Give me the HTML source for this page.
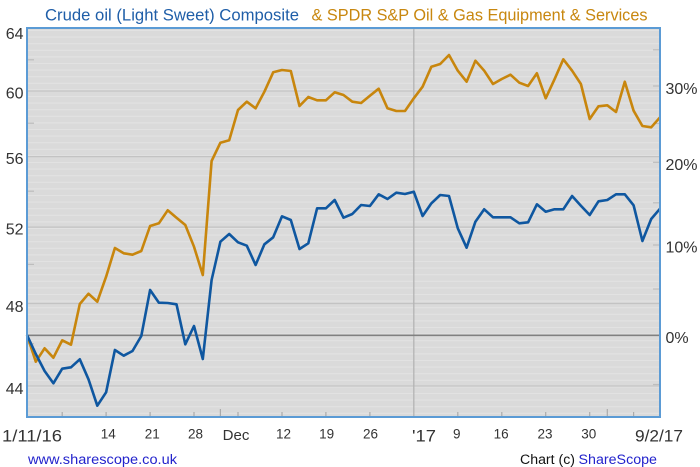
<!DOCTYPE html>
<html><head><meta charset="utf-8"><style>
html,body{margin:0;padding:0;background:#fff;}
svg{display:block;}
text{font-family:"Liberation Sans",Arial,sans-serif;}
</style></head><body>
<svg width="700" height="467" viewBox="0 0 700 467" xmlns="http://www.w3.org/2000/svg">
<defs>
<pattern id="bg" x="0" y="30" width="10" height="6.6" patternUnits="userSpaceOnUse">
<rect width="10" height="6.6" fill="#dadada"/>
<rect y="0" width="10" height="1" fill="#e3e3e3"/>
</pattern>
</defs>
<rect width="700" height="467" fill="#fff"/>
<rect x="27" y="28" width="633" height="389" fill="url(#bg)"/>
<!-- major gridlines -->
<g stroke="#c3c3c3" stroke-width="1.2">
<line x1="27" x2="660" y1="91" y2="91"/>
<line x1="27" x2="660" y1="156.6" y2="156.6"/>
<line x1="27" x2="660" y1="227.1" y2="227.1"/>
<line x1="27" x2="660" y1="303.5" y2="303.5"/>
<line x1="27" x2="660" y1="386" y2="386"/>
</g>
<!-- left minor ticks -->
<g stroke="#bdbdbd" stroke-width="1.2">
<line x1="27" x2="34" y1="59.8" y2="59.8"/>
<line x1="27" x2="34" y1="123.2" y2="123.2"/>
<line x1="27" x2="34" y1="191.2" y2="191.2"/>
<line x1="27" x2="34" y1="264.4" y2="264.4"/>
<line x1="27" x2="34" y1="343.7" y2="343.7"/>
<!-- right ticks -->
<line x1="653" x2="660" y1="49.8" y2="49.8"/>
<line x1="653" x2="660" y1="86" y2="86"/>
<line x1="653" x2="660" y1="123.5" y2="123.5"/>
<line x1="653" x2="660" y1="162.3" y2="162.3"/>
<line x1="653" x2="660" y1="202.8" y2="202.8"/>
<line x1="653" x2="660" y1="245" y2="245"/>
<line x1="653" x2="660" y1="289" y2="289"/>
<line x1="653" x2="660" y1="384.5" y2="384.5"/>
</g>
<!-- Jan line -->
<line x1="413.8" x2="413.8" y1="28" y2="417" stroke="#b4b4b4" stroke-width="1.3"/>
<!-- baseline -->
<line x1="27" x2="660" y1="335.3" y2="335.3" stroke="#808080" stroke-width="1.6"/>
<!-- bottom ticks -->
<g stroke="#aaaaaa" stroke-width="1.2">
<line x1="62.2" x2="62.2" y1="412" y2="417"/>
<line x1="106.1" x2="106.1" y1="412" y2="417"/>
<line x1="150.1" x2="150.1" y1="412" y2="417"/>
<line x1="194" x2="194" y1="412" y2="417"/>
<line x1="220.4" x2="220.4" y1="409" y2="417"/>
<line x1="238" x2="238" y1="412" y2="417"/>
<line x1="282" x2="282" y1="412" y2="417"/>
<line x1="325.9" x2="325.9" y1="412" y2="417"/>
<line x1="369.9" x2="369.9" y1="412" y2="417"/>
<line x1="457.8" x2="457.8" y1="412" y2="417"/>
<line x1="501.8" x2="501.8" y1="412" y2="417"/>
<line x1="545.7" x2="545.7" y1="412" y2="417"/>
<line x1="589.7" x2="589.7" y1="412" y2="417"/>
<line x1="607.3" x2="607.3" y1="409" y2="417"/>
<line x1="633.6" x2="633.6" y1="412" y2="417"/>
</g>
<!-- gold series -->
<polyline fill="none" stroke="#c8860d" stroke-width="2.6" stroke-linejoin="round" points="27,335 35.8,361.7 44.6,348.3 53.4,357.7 62.2,340.3 71,344.7 79.8,304 88.5,293.7 97.3,301.7 106.1,276.7 114.9,248 123.7,253.3 132.5,254.7 141.3,251 150.1,226 158.9,223.3 167.7,210.3 176.5,217.7 185.3,225 194,246.7 202.8,275 211.6,161 220.4,142.7 229.2,140.3 238,110 246.8,101.7 255.6,108.3 264.4,91.7 273.2,72.3 282,70 290.8,71 299.5,106 308.3,97 317.1,100.3 325.9,100.3 334.7,92.3 343.5,95 352.3,101.7 361.1,103 369.9,95.7 378.7,88.7 387.5,108.3 396.3,111 405,111 413.8,98.3 422.6,86.7 431.4,66.7 440.2,64 449,55 457.8,70.7 466.6,81.7 475.4,60.7 484.2,70.7 493,84 501.8,79 510.5,74.7 519.3,82.7 528.1,86 536.9,73.3 545.7,98.3 554.5,79.3 563.3,59.3 572.1,70.7 580.9,84 589.7,119 598.5,106.3 607.3,105.3 616,112 624.8,81.7 633.6,110.7 642.4,126 651.2,127.3 660,117.3"/>
<!-- blue series -->
<polyline fill="none" stroke="#0f57a0" stroke-width="2.6" stroke-linejoin="round" points="27,335 35.8,354 44.6,371 53.4,383.3 62.2,368.7 71,367.3 79.8,359.3 88.5,379.3 97.3,405.7 106.1,392.3 114.9,350 123.7,355.7 132.5,351 141.3,336 150.1,290 158.9,302.7 167.7,303 176.5,304.3 185.3,344.3 194,326 202.8,359 211.6,280 220.4,241.7 229.2,234 238,242.3 246.8,245.7 255.6,265 264.4,244.3 273.2,237.3 282,216.3 290.8,220 299.5,249 308.3,243.3 317.1,208.3 325.9,208.3 334.7,200 343.5,217.7 352.3,214 361.1,205 369.9,206 378.7,194.3 387.5,199 396.3,192.7 405,194 413.8,191.7 422.6,216 431.4,203.3 440.2,195 449,196 457.8,228.3 466.6,247.7 475.4,221.7 484.2,209.3 493,217.3 501.8,217.3 510.5,217.3 519.3,223.3 528.1,222.3 536.9,204.3 545.7,211.7 554.5,209.3 563.3,209.3 572.1,196 580.9,205.7 589.7,215 598.5,201.3 607.3,200 616,194.3 624.8,194.3 633.6,205.3 642.4,241 651.2,219 660,208.7"/>
<!-- border -->
<rect x="27" y="28" width="633" height="389" fill="none" stroke="#5b9bd5" stroke-width="2"/>
<!-- title -->
<text x="45" y="20.5" font-size="16.5" fill="#1f5ea8" textLength="254" lengthAdjust="spacingAndGlyphs">Crude oil (Light Sweet) Composite</text>
<text x="311.5" y="20.5" font-size="16.5" fill="#c8870f" textLength="336" lengthAdjust="spacingAndGlyphs">&amp; SPDR S&amp;P Oil &amp; Gas Equipment &amp; Services</text>
<!-- left axis labels -->
<g font-size="16" fill="#333" text-anchor="end">
<text x="23.5" y="39">64</text>
<text x="23.5" y="98.5">60</text>
<text x="23.5" y="164">56</text>
<text x="23.5" y="234.5">52</text>
<text x="23.5" y="312">48</text>
<text x="23.5" y="394">44</text>
</g>
<!-- right axis labels -->
<g font-size="16" fill="#333">
<text x="665.5" y="94">30%</text>
<text x="665.5" y="170">20%</text>
<text x="665.5" y="252.5">10%</text>
<text x="665.5" y="343">0%</text>
</g>
<!-- x labels -->
<g fill="#333">
<text x="2" y="441.5" font-size="16.5" textLength="60" lengthAdjust="spacingAndGlyphs">1/11/16</text>
<g font-size="13.5" text-anchor="middle">
<text x="108.3" y="438.5">14</text>
<text x="152.3" y="438.5">21</text>
<text x="195.5" y="438.5">28</text>
<text x="283.5" y="438.5">12</text>
<text x="326.7" y="438.5">19</text>
<text x="370.5" y="438.5">26</text>
<text x="456.7" y="438.5">9</text>
<text x="501.2" y="438.5">16</text>
<text x="545" y="438.5">23</text>
<text x="588.8" y="438.5">30</text>
</g>
<text x="236" y="440" font-size="15" text-anchor="middle">Dec</text>
<text x="412" y="441.5" font-size="16.5" textLength="24" lengthAdjust="spacingAndGlyphs">'17</text>
<text x="635" y="441.5" font-size="16.5" textLength="48" lengthAdjust="spacingAndGlyphs">9/2/17</text>
</g>
<!-- footer -->
<text x="28" y="464" font-size="13.5" fill="#2323cc" textLength="149" lengthAdjust="spacingAndGlyphs">www.sharescope.co.uk</text>
<text x="520" y="464" font-size="13.5" fill="#111" textLength="55" lengthAdjust="spacingAndGlyphs">Chart (c)</text>
<text x="578.5" y="464" font-size="13.5" fill="#2323cc" textLength="78.5" lengthAdjust="spacingAndGlyphs">ShareScope</text>
</svg>
</body></html>
